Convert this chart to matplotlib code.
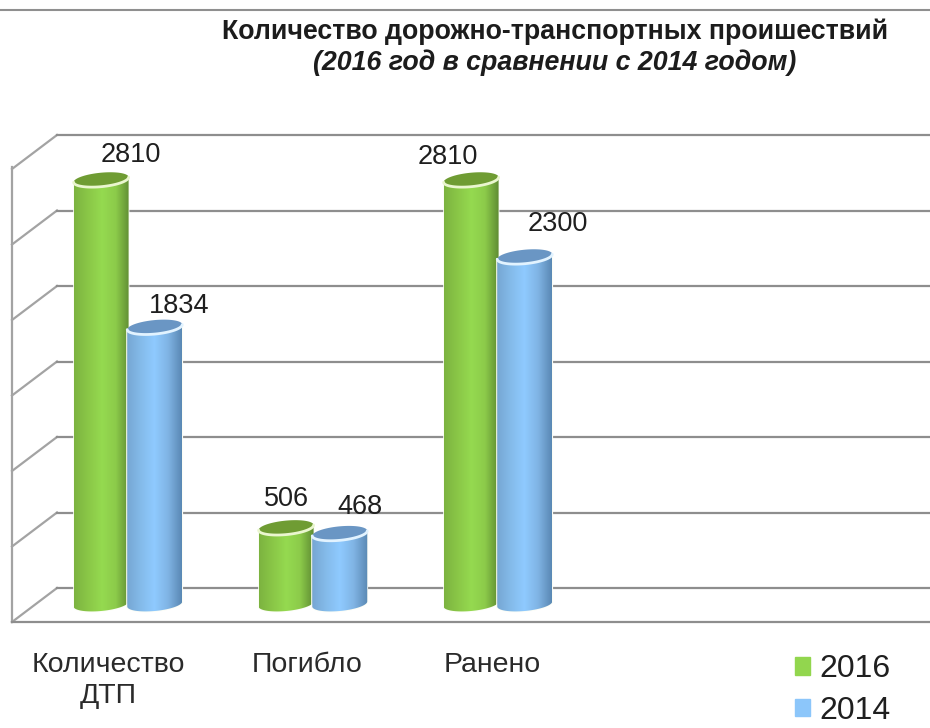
import numpy as np
import matplotlib
matplotlib.use("Agg")
import matplotlib.pyplot as plt
from matplotlib.colors import LinearSegmentedColormap
from matplotlib.lines import Line2D
from matplotlib.patches import Patch, Polygon

plt.rcParams['font.family'] = ['Liberation Sans', 'DejaVu Sans']

# ---------- data ----------
categories = ["Количество\nДТП", "Погибло", "Ранено"]
series_names = ["2016", "2014"]
values_2016 = [2810, 506, 2810]
values_2014 = [1834, 468, 2300]
grid_values = [0, 500, 1000, 1500, 2000, 2500, 3000]
title_line1 = "Количество дорожно-транспортных проишествий"
title_line2 = "(2016 год в сравнении с 2014 годом)"

# ---------- layout ----------
W, H = 930, 728
PX_X = 185.0          # pixels per category
PX_V = 0.151          # pixels per value unit
fig = plt.figure(figsize=(W / 100, H / 100), dpi=100, facecolor="white")
ax_l, ax_r, ax_t, ax_b = 12, 930, 167, 622
ax = fig.add_axes([ax_l / W, 1 - ax_b / H, (ax_r - ax_l) / W, (ax_b - ax_t) / H])
x0 = (ax_l - 127) / PX_X
x1 = (ax_r - 127) / PX_X
ylim = (0, (ax_b - ax_t) / PX_V)
GRID = "#8e8e8e"
GRID_LW = 1.6
WALL = "#a3a3a3"

back_dx, back_dy = 45 / PX_X, 34 / PX_V   # depth of wall
base = 18 / PX_V                          # bar plane above front edge
bar_w = 55 / PX_X
ell_b = 7 / PX_V
ell_s = 2.5 / PX_V


def ellipse(cx, cy, t):
    return (cx + bar_w / 2 * np.cos(t),
            cy + ell_b * np.sin(t) + ell_s * np.cos(t))


green = LinearSegmentedColormap.from_list("g", ["#7cb340", "#8ac747", "#95da50", "#8ccb4a", "#5f8c33"])
blue = LinearSegmentedColormap.from_list("b", ["#76a6d3", "#84bbea", "#8fcaff", "#80b4e4", "#5a88b4"])
styles = {
    "2016": (green, "#6f9c33", "#eaf6cf", "#92d64e"),
    "2014": (blue, "#6a96c4", "#e2f3ff", "#8cc6fa"),
}
grad = np.linspace(0, 1, 128).reshape(1, -1)


def cylinder(cx, v, name, z):
    cmap, top_c, rim_c, _ = styles[name]
    low = np.linspace(np.pi, 2 * np.pi, 40)
    bx, by = ellipse(cx, base, low)
    tx, ty = ellipse(cx, base + v, low[::-1])
    clip = Polygon(np.c_[np.r_[bx, tx], np.r_[by, ty]], closed=True,
                   transform=ax.transData, fc="none", ec="none")
    ax.add_patch(clip)
    im = ax.imshow(grad, cmap=cmap, aspect="auto", zorder=z, interpolation="bilinear",
                   extent=(cx - bar_w / 2, cx + bar_w / 2, base - 2 * ell_b, base + v + 2 * ell_b),
                   clip_on=True)
    im.set_clip_path(clip)
    # white halo on the body outline
    ax.plot(np.r_[bx, tx[0]], np.r_[by, ty[0]], color="#fbfdf5", lw=1.2, zorder=z - 0.1, clip_on=False)
    ax.plot([tx[-1], bx[0]], [ty[-1], by[0]], color="#fbfdf5", lw=1.2, zorder=z - 0.1, clip_on=False)
    full = np.linspace(0, 2 * np.pi, 80)
    ex, ey = ellipse(cx, base + v, full)
    ax.add_patch(Polygon(np.c_[ex, ey], closed=True, fc=top_c, ec="none", zorder=z + 0.1))
    ax.plot(tx, ty, color=rim_c, lw=2.0, zorder=z + 0.2, solid_capstyle="round", clip_on=False)


# walls and grid
for v in grid_values:
    ax.plot([x0, x0 + back_dx], [v, v + back_dy], color=WALL, lw=GRID_LW, zorder=1, clip_on=False)
    ax.plot([x0 + back_dx, x1], [v + back_dy, v + back_dy], color=GRID, lw=GRID_LW, zorder=1, clip_on=False)

positions = np.arange(len(categories))
offset_2016 = -0.14
offset_2014 = 0.15
for i, p in enumerate(positions):
    cylinder(p + offset_2016, values_2016[i], "2016", 3 + i)
    cylinder(p + offset_2014, values_2014[i], "2014", 3.5 + i)

# value labels
label_shift_2016 = [(30, 25), (0, 29), (-23, 23)]
label_shift_2014 = [(24, 21), (20, 26), (33, 33)]
for vals, off, shifts in ((values_2016, offset_2016, label_shift_2016),
                          (values_2014, offset_2014, label_shift_2014)):
    for p, v, s in zip(positions, vals, shifts):
        ax.annotate(str(v), xy=(p + off, base + v), xytext=s, textcoords="offset pixels",
                    ha="center", va="center", fontsize=19.5, color="#1f1f1f", zorder=20,
                    annotation_clip=False)

ax.set_xlim(x0, x1)
ax.set_ylim(*ylim)
ax.patch.set_alpha(0)
for sp in ("top", "right"):
    ax.spines[sp].set_visible(False)
ax.spines["left"].set_color(WALL)
ax.spines["bottom"].set_color(GRID)
for sp in ("left", "bottom"):
    ax.spines[sp].set_linewidth(GRID_LW)
ax.set_yticks(grid_values)
ax.set_yticklabels([])
ax.tick_params(axis="y", length=0)

label_centres = [-0.103, 0.973, 1.973]
ax.set_xticks(label_centres)
ax.set_xticklabels(categories, fontsize=20.5, color="#2a2a2a", linespacing=1.28)
ax.tick_params(axis="x", length=0, pad=21.5)

# titles and top rule
fig.add_artist(Line2D([0, 1], [1 - 10 / H, 1 - 10 / H], color="#8f8f8f", lw=1.5))
fig.text(555 / W, 1 - 32 / H, title_line1, ha="center", va="center",
         fontsize=19.3, fontweight="bold", color="#1c1c1c")
fig.text(555 / W, 1 - 63 / H, title_line2, ha="center", va="center",
         fontsize=19.3, fontweight="bold", fontstyle="italic", color="#1c1c1c")

# legend
handles = [Patch(color=styles[n][3], label=n) for n in series_names]
fig.legend(handles=handles, loc="upper left", bbox_to_anchor=(773 / W, 1 - 632 / H),
           frameon=False, fontsize=23, handlelength=0.45, handleheight=0.45, handletextpad=0.3,
           labelspacing=0.36, labelcolor="#1f1f1f", borderpad=0.2)

fig.savefig("out.png", dpi=100, facecolor="white")
